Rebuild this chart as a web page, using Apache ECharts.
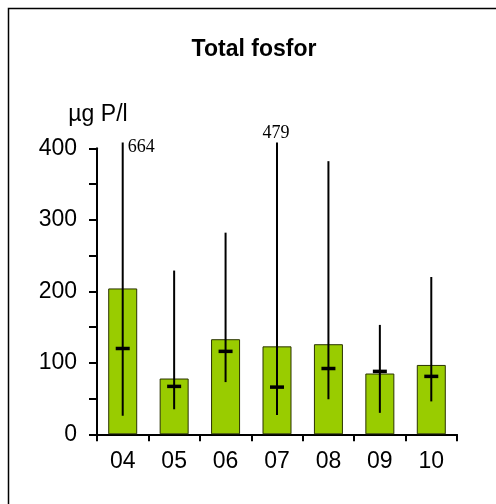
<!DOCTYPE html>
<html><head><meta charset="utf-8">
<script src="https://cdn.jsdelivr.net/npm/echarts@6/dist/echarts.min.js"></script>
<style>html,body{margin:0;padding:0;background:#fff}#c{width:496px;height:504px}</style>
</head><body><div id="c"></div>
<script>
var categories = ['04','05','06','07','08','09','10'];
var meanVals   = [204, 78, 133, 123, 126, 85, 97];
var medianVals = [120, 67, 116, 66, 92, 88, 81];
var minVals    = [26, 35, 73, 27, 49, 30, 46];
var maxVals    = [664, 229, 282, 479, 382, 153, 220];
var yTicks     = [0, 100, 200, 300, 400];
var clipTop = 408;

var chart = echarts.init(document.getElementById('c'), null, {renderer:'canvas'});
var rangeData = categories.map(function(c, i){ return [i, minVals[i], maxVals[i], medianVals[i]]; });

chart.setOption({
  animation:false,
  grid:{left:97, right:39, top:148.3, bottom:69.7},
  graphic:[
    {type:'rect', shape:{x:8.5,y:8.5,width:500,height:500}, style:{fill:'none',stroke:'#000',lineWidth:1.5}},
    {type:'text', x:254, y:50, style:{text:'Total fosfor', font:'bold 23px Arial, "Liberation Sans"', fill:'#000', textAlign:'center', textVerticalAlign:'middle'}},
    {type:'text', x:98, y:115, style:{text:'µg P/l', font:'23px Arial, "Liberation Sans"', fill:'#000', textAlign:'center', textVerticalAlign:'middle'}}
  ],
  xAxis:{type:'category', data:categories,
    axisLine:{lineStyle:{color:'#000', width:2}},
    axisTick:{show:true, length:7, lineStyle:{color:'#000', width:2}},
    axisLabel:{color:'#000', fontSize:23, fontFamily:'Arial', margin:16},
    splitLine:{show:false}},
  yAxis:{type:'value', min:0, max:400, interval:50,
    axisLine:{show:true, lineStyle:{color:'#000', width:2}},
    axisTick:{show:true, length:8, lineStyle:{color:'#000', width:2}},
    axisLabel:{color:'#000', fontSize:23, fontFamily:'Arial', margin:20,
      formatter:function(v){ return yTicks.indexOf(v) >= 0 ? String(v) : ''; }},
    splitLine:{show:false}},
  series:[
    {type:'bar', data:meanVals, barWidth:29,
     itemStyle:{color:'#99cc00', borderColor:'#2a3300', borderWidth:1}},
    {type:'custom', data:rangeData, z:5, clip:false,
     renderItem:function(params, api){
       var i = api.value(0);
       var lo = api.coord([i, api.value(1)]);
       var maxV = api.value(2);
       var hi = api.coord([i, Math.min(maxV, clipTop)]);
       var med = api.coord([i, api.value(3)]);
       var children = [
         {type:'line', shape:{x1:lo[0], y1:lo[1], x2:hi[0], y2:hi[1]}, style:{stroke:'#000', lineWidth:2}},
         {type:'line', shape:{x1:med[0]-7, y1:med[1], x2:med[0]+7, y2:med[1]}, style:{stroke:'#000', lineWidth:3.5}}
       ];
       if (maxV > clipTop) {
         var right = (i === 0);
         children.push({type:'text', x: right ? hi[0]+5 : hi[0]-1, y: right ? hi[1]+5 : hi[1]-9,
           style:{text:String(maxV), font:'18px "Liberation Serif", "Times New Roman"', fill:'#000',
             textAlign: right ? 'left' : 'center', textVerticalAlign:'middle'}});
       }
       return {type:'group', children:children};
     }}
  ]
});
</script></body></html>
